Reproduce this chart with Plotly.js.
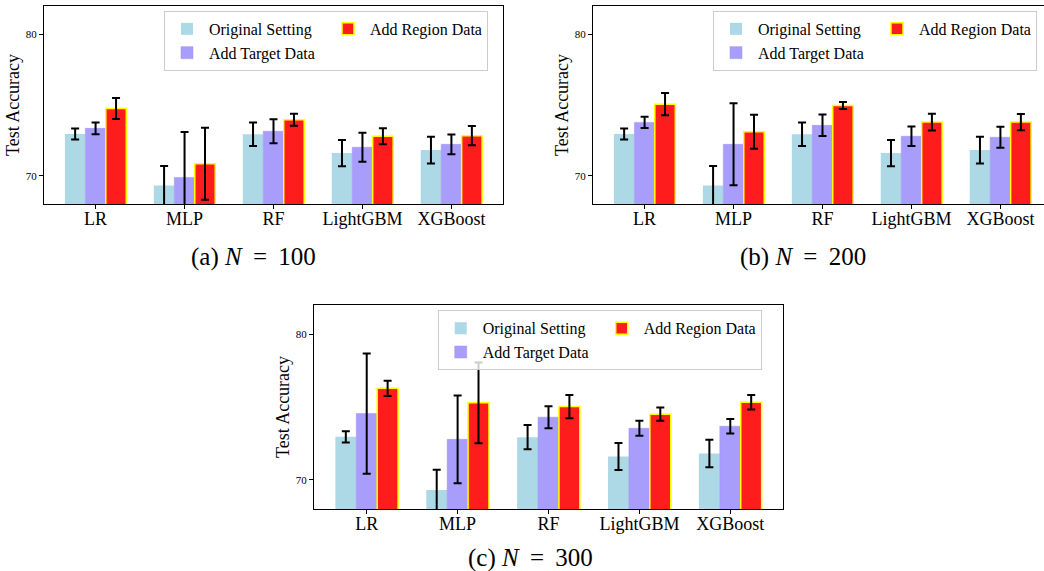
<!DOCTYPE html>
<html><head><meta charset="utf-8">
<script src="https://cdn.plot.ly/plotly-3.0.1.min.js"></script>
<style>
html,body{margin:0;padding:0;overflow:hidden;background:#fff;width:1044px;height:571px;}
.box{position:absolute;overflow:hidden;}
</style></head><body>
<div class="box" style="left:0;top:0;width:540px;height:285px"><div id="pa"></div></div>
<div class="box" style="left:540px;top:0;width:504px;height:285px"><div id="pb"></div></div>
<div class="box" style="left:260px;top:285px;width:560px;height:286px"><div id="pc"></div></div>
<script>
const categories = ['LR', 'MLP', 'RF', 'LightGBM', 'XGBoost'];
const seriesNames = ['Original Setting', 'Add Target Data', 'Add Region Data'];

const original    = [72.95, 69.30, 72.93, 71.60, 71.81];
const originalErr = [0.39, 1.39, 0.83, 0.93, 0.94];

const target100    = [73.35, 69.88, 73.14, 72.01, 72.22];
const target100Err = [0.42, 3.21, 0.85, 1.02, 0.70];
const region100    = [74.75, 70.85, 73.96, 72.79, 72.83];
const region100Err = [0.74, 2.55, 0.42, 0.56, 0.68];

const target200    = [73.77, 72.22, 73.56, 72.79, 72.72];
const target200Err = [0.40, 2.90, 0.76, 0.69, 0.74];
const region200    = [75.06, 73.11, 74.96, 73.79, 73.79];
const region200Err = [0.78, 1.20, 0.25, 0.59, 0.58];

const target300    = [74.55, 72.78, 74.30, 73.54, 73.68];
const target300Err = [4.13, 3.01, 0.75, 0.52, 0.50];
const region300    = [76.28, 75.29, 75.03, 74.51, 75.33];
const region300Err = [0.52, 2.77, 0.80, 0.46, 0.50];

const yRange = [68, 82];
const FONT = 'Liberation Serif, Times New Roman, serif';

function err(arr){
  return {type:'data', array:arr, visible:true, color:'#000', thickness:2, width:4};
}

function panel(id, w, h, margin, tgt, tgtErr, reg, regErr, caption, capX, capY, legX, legY){
  const traces = [
    {type:'bar', name:seriesNames[0], x:categories, y:original, error_y:err(originalErr),
     marker:{color:'#ADD8E6', line:{width:0}}, legendrank:1},
    {type:'bar', name:seriesNames[1], x:categories, y:tgt, error_y:err(tgtErr),
     marker:{color:'#A99DFC', line:{color:'#9d90f5', width:0.5}}, legendrank:3},
    {type:'bar', name:seriesNames[2], x:categories, y:reg, error_y:err(regErr),
     marker:{color:'#FF1C1C', line:{color:'#FFFF00', width:1.5}}, legendrank:2}
  ];
  const layout = {
    width:w, height:h, margin:margin,
    paper_bgcolor:'#fff', plot_bgcolor:'#fff',
    font:{family:FONT, color:'#000'},
    barmode:'group', bargap:0.31, bargroupgap:0,
    showlegend:true,
    legend:{orientation:'h', x:legX, y:legY, xanchor:'left', yanchor:'top',
      bgcolor:'rgba(255,255,255,0.8)', bordercolor:'#cccccc', borderwidth:1,
      font:{family:FONT, size:16, color:'#000'}, entrywidth:112, itemwidth:34,
      traceorder:'normal'},
    xaxis:{type:'category', range:[-0.58, 4.58], showline:true, linecolor:'#000', linewidth:1,
      mirror:true, ticks:'outside', ticklen:4, tickcolor:'#000', ticklabelstandoff:-6,
      tickfont:{family:FONT, size:18, color:'#000'}, showgrid:false, zeroline:false, fixedrange:true},
    yaxis:{range:yRange, tickvals:[70, 80], ticktext:['70','80'], showline:true, linecolor:'#000', linewidth:1,
      mirror:true, ticks:'outside', ticklen:4, tickcolor:'#000',
      tickfont:{family:FONT, size:11, color:'#000'}, showgrid:false, zeroline:false,
      title:{text:'Test Accuracy', font:{family:FONT, size:18, color:'#000'}, standoff:1}},
    annotations:[{text:caption, xref:'paper', yref:'paper', x:capX, y:capY,
      xanchor:'center', yanchor:'middle', showarrow:false,
      font:{family:FONT, size:25, color:'#000'}}]
  };
  Plotly.newPlot(id, traces, layout, {displayModeBar:false, staticPlot:true});
}

panel('pa', 540, 285, {l:44, r:37, t:6, b:81}, target100, target100Err, region100, region100Err,
  '(a) <i>N</i> \u2009=\u2009 100', 0.4575, -0.267, 0.2614, 0.975);
panel('pb', 520, 285, {l:53, r:8, t:6, b:81}, target200, target200Err, region200, region200Err,
  '(b) <i>N</i> \u2009=\u2009 200', 0.4575, -0.267, 0.2614, 0.975);
panel('pc', 560, 286, {l:54, r:37, t:20, b:62}, target300, target300Err, region300, region300Err,
  '(c) <i>N</i> \u2009=\u2009 300', 0.4606, -0.24, 0.2638, 0.974);
</script>
</body></html>
